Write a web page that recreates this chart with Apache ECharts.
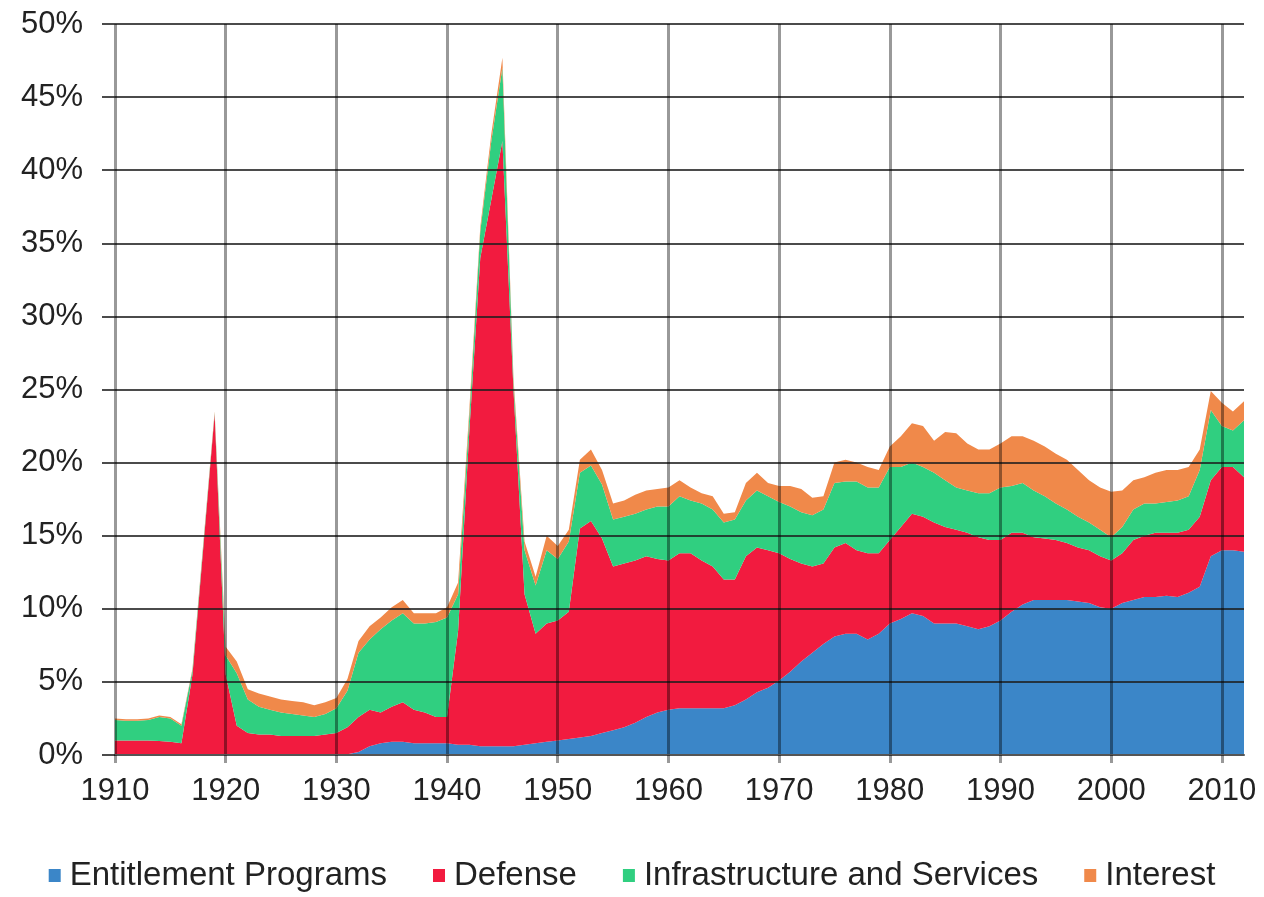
<!DOCTYPE html>
<html>
<head>
<meta charset="utf-8">
<title>Federal spending by category</title>
<script src="https://cdn.jsdelivr.net/npm/echarts@6/dist/echarts.min.js"></script>
<style>
  html, body { margin: 0; padding: 0; background: #fff; }
  #chart { width: 1264px; height: 897px; }
</style>
</head>
<body>
<div id="chart"></div>
<script>
// 年份 1910-2012
var years = []
for (var y = 1910; y <= 2012; y++) years.push(String(y))

var yTicks = [0, 5, 10, 15, 20, 25, 30, 35, 40, 45, 50]

// share of GDP (%), one value per year
var entitlement = [
  0, 0, 0, 0, 0, 0, 0, 0, 0, 0,
  0, 0, 0, 0, 0, 0, 0, 0, 0, 0,
  0, 0.05, 0.2, 0.6, 0.8, 0.9, 0.9, 0.8, 0.8, 0.8,
  0.8, 0.7, 0.7, 0.6, 0.6, 0.6, 0.6, 0.7, 0.8, 0.9,
  1.0, 1.1, 1.2, 1.3, 1.5, 1.7, 1.9, 2.2, 2.6, 2.9,
  3.1, 3.2, 3.2, 3.2, 3.2, 3.2, 3.4, 3.8, 4.3, 4.6,
  5.1, 5.7, 6.4, 7.0, 7.6, 8.1, 8.3, 8.3, 7.9, 8.3,
  9.0, 9.3, 9.7, 9.5, 9.0, 9.0, 9.0, 8.8, 8.6, 8.8,
  9.2, 9.8, 10.3, 10.6, 10.6, 10.6, 10.6, 10.5, 10.4, 10.1,
  10.0, 10.4, 10.6, 10.8, 10.8, 10.9, 10.8, 11.1, 11.5, 13.6,
  14.0, 14.0, 13.9
]
var defense = [
  1.0, 1.0, 1.0, 1.0, 0.95, 0.9, 0.8, 5.5, 14.4, 23.3,
  5.5, 2.0, 1.5, 1.4, 1.4, 1.3, 1.3, 1.3, 1.3, 1.4,
  1.5, 1.85, 2.4, 2.5, 2.1, 2.4, 2.7, 2.3, 2.1, 1.8,
  1.8, 7.8, 21.3, 33.4, 37.4, 41.4, 24.4, 10.3, 7.5, 8.1,
  8.2, 8.7, 14.3, 14.7, 13.3, 11.2, 11.2, 11.1, 11.0, 10.5,
  10.2, 10.6, 10.6, 10.1, 9.7, 8.8, 8.6, 9.8, 9.9, 9.4,
  8.7, 7.7, 6.7, 5.9, 5.5, 6.1, 6.2, 5.7, 5.9, 5.5,
  5.7, 6.3, 6.8, 6.8, 6.9, 6.6, 6.4, 6.4, 6.3, 5.9,
  5.5, 5.4, 4.9, 4.3, 4.2, 4.1, 3.9, 3.7, 3.6, 3.5,
  3.3, 3.4, 4.1, 4.2, 4.4, 4.3, 4.4, 4.3, 4.8, 5.2,
  5.7, 5.7, 5.1
]
var infrastructure = [
  1.4, 1.35, 1.35, 1.4, 1.65, 1.6, 1.2, 0.3, 0.2, 0.1,
  1.3, 3.6, 2.3, 1.9, 1.7, 1.6, 1.5, 1.4, 1.3, 1.4,
  1.7, 2.5, 4.4, 4.8, 5.7, 5.9, 6.1, 5.9, 6.1, 6.5,
  6.8, 2.5, 1.0, 1.8, 4.0, 5.0, 0.5, 3.0, 3.3, 5.0,
  4.2, 4.8, 3.8, 3.8, 3.7, 3.2, 3.2, 3.2, 3.2, 3.6,
  3.7, 3.9, 3.6, 3.9, 3.9, 3.9, 4.1, 3.8, 3.9, 3.7,
  3.5, 3.6, 3.5, 3.5, 3.7, 4.4, 4.2, 4.7, 4.5, 4.5,
  5.0, 4.1, 3.5, 3.4, 3.4, 3.2, 2.9, 2.9, 3.0, 3.2,
  3.6, 3.2, 3.4, 3.2, 2.9, 2.5, 2.3, 2.1, 1.9, 1.8,
  1.6, 1.8, 2.1, 2.2, 2.0, 2.1, 2.2, 2.3, 3.2, 4.8,
  2.8, 2.5, 3.9
]
var interest = [
  0.1, 0.1, 0.1, 0.1, 0.1, 0.1, 0.1, 0.1, 0.1, 0.1,
  0.6, 0.8, 0.7, 0.9, 0.9, 0.9, 0.9, 0.9, 0.8, 0.8,
  0.7, 0.8, 0.8, 0.9, 0.8, 0.9, 0.9, 0.7, 0.7, 0.6,
  0.7, 0.8, 0.5, 0.3, 0.5, 0.7, 0.3, 0.6, 0.6, 1.0,
  0.9, 0.8, 0.9, 1.1, 1.0, 1.1, 1.1, 1.3, 1.3, 1.2,
  1.3, 1.1, 0.9, 0.7, 0.9, 0.6, 0.5, 1.2, 1.2, 0.9,
  1.1, 1.4, 1.6, 1.2, 0.9, 1.4, 1.5, 1.3, 1.4, 1.2,
  1.4, 2.1, 2.7, 2.8, 2.2, 3.3, 3.7, 3.2, 3.0, 3.0,
  3.0, 3.4, 3.2, 3.4, 3.4, 3.4, 3.4, 3.2, 2.9, 2.9,
  3.1, 2.5, 2.0, 1.8, 2.1, 2.2, 2.1, 2.0, 1.4, 1.3,
  1.6, 1.3, 1.3
]

var seriesNames = ['Entitlement Programs', 'Defense', 'Infrastructure and Services', 'Interest']
var seriesColors = ['#3B86C8', '#F21B3F', '#30CF80', '#F0894A']

function decade(index, value) {
  return Number(value) % 10 === 0
}

function areaSeries(name, color, data) {
  return {
    name: name,
    type: 'line',
    stack: 'total',
    data: data,
    showSymbol: false,
    smooth: false,
    lineStyle: { width: 0 },
    areaStyle: { color: color, opacity: 1 },
    itemStyle: { color: color },
    z: 2
  }
}

var chart = echarts.init(document.getElementById('chart'))
chart.setOption({
  animation: false,
  textStyle: { fontFamily: 'Liberation Sans, Arial, sans-serif' },
  grid: { left: 115, right: 20, top: 24, bottom: 142 },
  legend: {
    bottom: 0,
    left: 'center',
    icon: 'rect',
    itemWidth: 12,
    itemHeight: 13,
    itemGap: 46,
    textStyle: { fontSize: 33, color: '#222', padding: [0, 0, 0, 4] },
    data: seriesNames
  },
  xAxis: {
    type: 'category',
    boundaryGap: false,
    data: years,
    z: 3,
    axisLine: { show: true, lineStyle: { color: '#555', width: 2 } },
    axisTick: {
      show: true,
      interval: decade,
      length: 8,
      lineStyle: { color: 'rgba(0,0,0,0.4)', width: 3 }
    },
    axisLabel: {
      interval: decade,
      margin: 21,
      fontSize: 31,
      color: '#222'
    },
    splitLine: {
      show: true,
      interval: decade,
      lineStyle: { color: 'rgba(0,0,0,0.4)', width: 3 }
    }
  },
  yAxis: {
    type: 'value',
    min: yTicks[0],
    max: yTicks[yTicks.length - 1],
    interval: 5,
    z: 3,
    axisLine: { show: false },
    axisTick: {
      show: true,
      length: 13,
      lineStyle: { color: 'rgba(30,30,30,0.8)', width: 2 }
    },
    axisLabel: {
      margin: 32,
      fontSize: 31,
      color: '#222',
      formatter: '{value}%'
    },
    splitLine: {
      show: true,
      lineStyle: { color: 'rgba(30,30,30,0.8)', width: 2 }
    }
  },
  series: [
    areaSeries(seriesNames[0], seriesColors[0], entitlement),
    areaSeries(seriesNames[1], seriesColors[1], defense),
    areaSeries(seriesNames[2], seriesColors[2], infrastructure),
    areaSeries(seriesNames[3], seriesColors[3], interest)
  ]
})
</script>
</body>
</html>
